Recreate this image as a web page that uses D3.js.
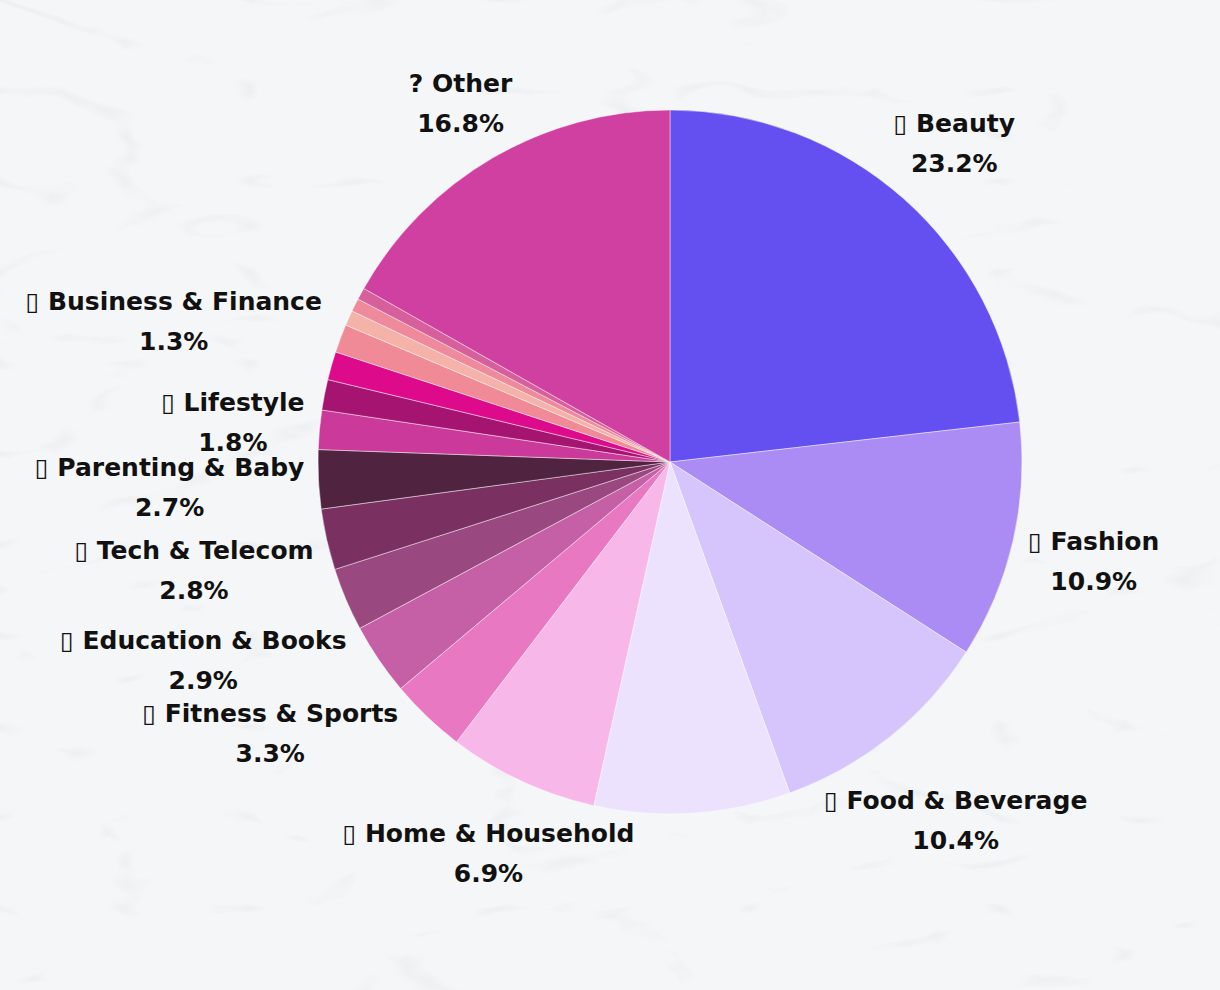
<!DOCTYPE html>
<html>
<head>
<meta charset="utf-8">
<script src="https://cdn.jsdelivr.net/npm/d3@7"></script>
<style>
  html, body { margin: 0; padding: 0; background: #f5f6f7; }
  svg { display: block; }
  .lbl { font-family: "DejaVu Sans", sans-serif; font-weight: 700; font-size: 25px; fill: #111; }
</style>
</head>
<body>
<svg id="chart"></svg>
<script>
// categories (empty = slice drawn without a label)
const labels = [
  "▯ Beauty", "▯ Fashion", "▯ Food & Beverage", "", "▯ Home & Household", "",
  "▯ Fitness & Sports", "▯ Education & Books", "▯ Tech & Telecom", "▯ Parenting & Baby",
  "▯ Lifestyle", "", "▯ Business & Finance", "", "", "", "", "? Other"
];
// share in percent
const values = [23.2, 10.9, 10.4, 9.0, 6.9, 3.5, 3.3, 2.9, 2.8, 2.7, 1.8, 1.4, 1.3, 1.3, 0.7, 0.6, 0.55, 16.8];
// slice colours
const palette = [
  "#6450f0", "#aa8cf4", "#d5c5fc", "#ece2fe", "#f7b7e9", "#e878c2",
  "#c560a6", "#9a4880", "#7a3060", "#502340", "#cb3a9a", "#a61472",
  "#de0a8c", "#f08a96", "#f5b2a8", "#ee8a9c", "#d6609c", "#d040a0"
];

const width = 1220;
const height = 990;
const cx = 670, cy = 462;
const radius = 352;
const gap = 13; // space between pie edge and label box

const svg = d3.select("#chart").attr("width", width).attr("height", height);

// background with faint marble wisps
const defs = svg.append("defs");
const f = defs.append("filter").attr("id", "tex")
  .attr("x", 0).attr("y", 0).attr("width", "100%").attr("height", "100%");
f.append("feTurbulence").attr("type", "turbulence")
  .attr("baseFrequency", "0.004 0.011").attr("numOctaves", 3).attr("seed", 7);
f.append("feColorMatrix").attr("type", "matrix")
  .attr("values", "0 0 0 0 0.55  0 0 0 0 0.58  0 0 0 0 0.6  0 0 0 -7 0.8");
svg.append("rect").attr("width", width).attr("height", height).attr("fill", "#f5f6f7");
svg.append("rect").attr("width", width).attr("height", height)
  .attr("filter", "url(#tex)").attr("opacity", 0.2);

const pie = d3.pie().sort(null).value(d => d);
const arcs = pie(values);
const arc = d3.arc().innerRadius(0).outerRadius(radius);

const g = svg.append("g").attr("transform", `translate(${cx},${cy})`);

g.selectAll("path")
  .data(arcs)
  .enter()
  .append("path")
  .attr("d", arc)
  .attr("fill", (d, i) => palette[i])
  .attr("stroke", "rgba(255,255,255,0.55)")
  .attr("stroke-width", 0.8);

// labels: pushed out along the mid angle until clear of the pie and of earlier labels
const placed = [];
function distToBox(b) {
  const nx = Math.max(b.x0, Math.min(0, b.x1));
  const ny = Math.max(b.y0, Math.min(0, b.y1));
  return Math.hypot(nx, ny);
}
function overlaps(a, b) {
  return a.x0 < b.x1 && a.x1 > b.x0 && a.y0 < b.y1 && a.y1 > b.y0;
}

arcs.forEach((d, i) => {
  if (!labels[i]) return;
  const mid = (d.startAngle + d.endAngle) / 2;
  const vx = Math.sin(mid), vy = -Math.cos(mid);
  const lg = g.append("g");
  const t = lg.append("text").attr("class", "lbl").attr("text-anchor", "middle");
  t.append("tspan").attr("x", 0).attr("y", -11).text(labels[i]);
  t.append("tspan").attr("x", 0).attr("y", 29).text(values[i].toFixed(1) + "%");
  const bb = t.node().getBBox();
  let r = radius;
  let box;
  for (; r < radius + 400; r += 1) {
    const px = vx * r, py = vy * r;
    box = { x0: px + bb.x, x1: px + bb.x + bb.width, y0: py + bb.y + 7, y1: py + bb.y + bb.height - 6 };
    if (distToBox(box) >= radius + gap && !placed.some(p => overlaps(p, box))) break;
  }
  placed.push(box);
  lg.attr("transform", `translate(${vx * r},${vy * r})`);
});
</script>
</body>
</html>
